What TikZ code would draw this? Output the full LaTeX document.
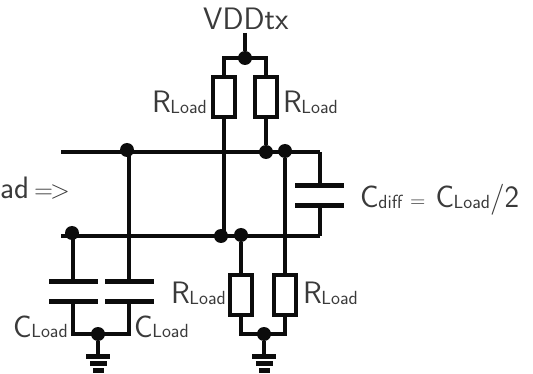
\documentclass[tikz,border=0pt]{standalone}
\usepackage{xcolor}
\definecolor{wirecol}{HTML}{0c0c0c}
\definecolor{textcol}{HTML}{3a3a3a}
\def\lsub#1{{\fontsize{19}{19}\selectfont\raisebox{-1pt}{#1}}}
\def\lsym#1{{\fontsize{21}{21}\selectfont #1}}
\def\Rload{R\kern-0.5pt\lsub{Load}}
\def\Cload{C\kern-0.5pt\lsub{Load}}

\begin{document}
\begin{tikzpicture}[
		x=1pt, y=-1pt,
		wire/.style={line width=4.6pt, draw=wirecol, line join=miter},
		res/.style={draw=wirecol, line width=4.6pt, inner sep=0pt, outer sep=0pt, minimum width=22pt, minimum height=40pt},
		dot/.style={circle, fill=wirecol, inner sep=0pt, minimum size=14pt},
		plate/.style={fill=wirecol, inner sep=0pt, outer sep=0pt, minimum width=49pt, minimum height=5pt},
		gndbar/.style={fill=wirecol, inner sep=0pt, outer sep=0pt, minimum height=5pt},
		lbl/.style={anchor=base west, inner sep=0pt, text=textcol, font=\fontsize{31}{31}\selectfont\sffamily},
	]
	\useasboundingbox (0,0) rectangle (533,374);
	% resistors
	\node[res] (rTL) at (224,97) {};
	\node[res] (rTR) at (266,97) {};
	\node[res] (rBL) at (241,295) {};
	\node[res] (rBR) at (285,295) {};
	% capacitors
	\node[plate] (cLtop) at (73,282) {};
	\node[plate] (cLbot) at (73,301) {};
	\node[plate] (cRtop) at (129,282) {};
	\node[plate] (cRbot) at (129,301) {};
	\node[plate] (cDtop) at (319,186) {};
	\node[plate] (cDbot) at (319,206) {};
	% junctions
	\node[dot] (vdd) at (245,58) {};
	\node[dot] (topA) at (127,150) {};
	\node[dot] (topB) at (266,152) {};
	\node[dot] (topC) at (285,151) {};
	\node[dot] (botA) at (72,233) {};
	\node[dot] (botB) at (221,236) {};
	\node[dot] (botC) at (241,235) {};
	\node[dot] (gndL) at (98,334) {};
	\node[dot] (gndR) at (264,334) {};
	% ends and corners
	\coordinate (vddEnd) at (245,33);
	\coordinate (inTop) at (61,152);
	\coordinate (inBot) at (61,236);
	\coordinate (topEnd) at (320,152);
	\coordinate (botEnd) at (320,236);
	% ground bars
	\node[gndbar, minimum width=24pt] (gL1) at (98,356) {};
	\node[gndbar, minimum width=17pt] (gL2) at (98,363) {};
	\node[gndbar, minimum width=11pt] (gL3) at (98,370) {};
	\node[gndbar, minimum width=24pt] (gR1) at (264,356) {};
	\node[gndbar, minimum width=17pt] (gR2) at (264,363) {};
	\node[gndbar, minimum width=11pt] (gR3) at (264,370) {};
	% wires
	\draw[wire] (vddEnd) -- (vdd);
	\draw[wire] (rTL.north) |- (vdd.center) -| (rTR.north);
	\draw[wire] (inTop) -- (topEnd);
	\draw[wire] (inBot) -- (botEnd);
	\draw[wire] (rTL.south) -- (rTL.south |- botB);
	\draw[wire] (rTR.south) -- (topB);
	\draw[wire] (topC) -- (rBR.north);
	\draw[wire] (botC) -- (rBL.north);
	\draw[wire] (topEnd) -- (cDtop.north -| topEnd);
	\draw[wire] (cDbot.south -| botEnd) -- (botEnd);
	\draw[wire] (cRtop.north) -- (cRtop.north |- topA);
	\draw[wire] (cLtop.north) -- (cLtop.north |- botA);
	\draw[wire] (cLbot.south) |- (gndL.center) -| (cRbot.south);
	\draw[wire] (rBL.south) |- (gndR.center) -| (rBR.south);
	\draw[wire] (gndL) -- (gL1);
	\draw[wire] (gndR) -- (gR1);
	% labels
	\node[lbl] (vddLbl) at (203,30) {VDDtx};
	\node[lbl] (rTLbl) at (152,113) {\Rload};
	\node[lbl] (rTRbl) at (283,113) {\Rload};
	\node[lbl] (rBLbl) at (171,303) {\Rload};
	\node[lbl] (rBRbl) at (303,303) {\Rload};
	\node[lbl] (cLLbl) at (13,337) {\Cload};
	\node[lbl] (cRLbl) at (134,337) {\Cload};
	\node[lbl] (cDLbl) at (360,208) {C\kern-0.5pt\lsub{diff}\kern8pt\lsym{=}\kern10pt\Cload/2};
	\node[lbl] (inLbl) at (0,199) {ad\kern5pt{\fontsize{26}{26}\selectfont=\kern-3pt>}};
\end{tikzpicture}
\end{document}
